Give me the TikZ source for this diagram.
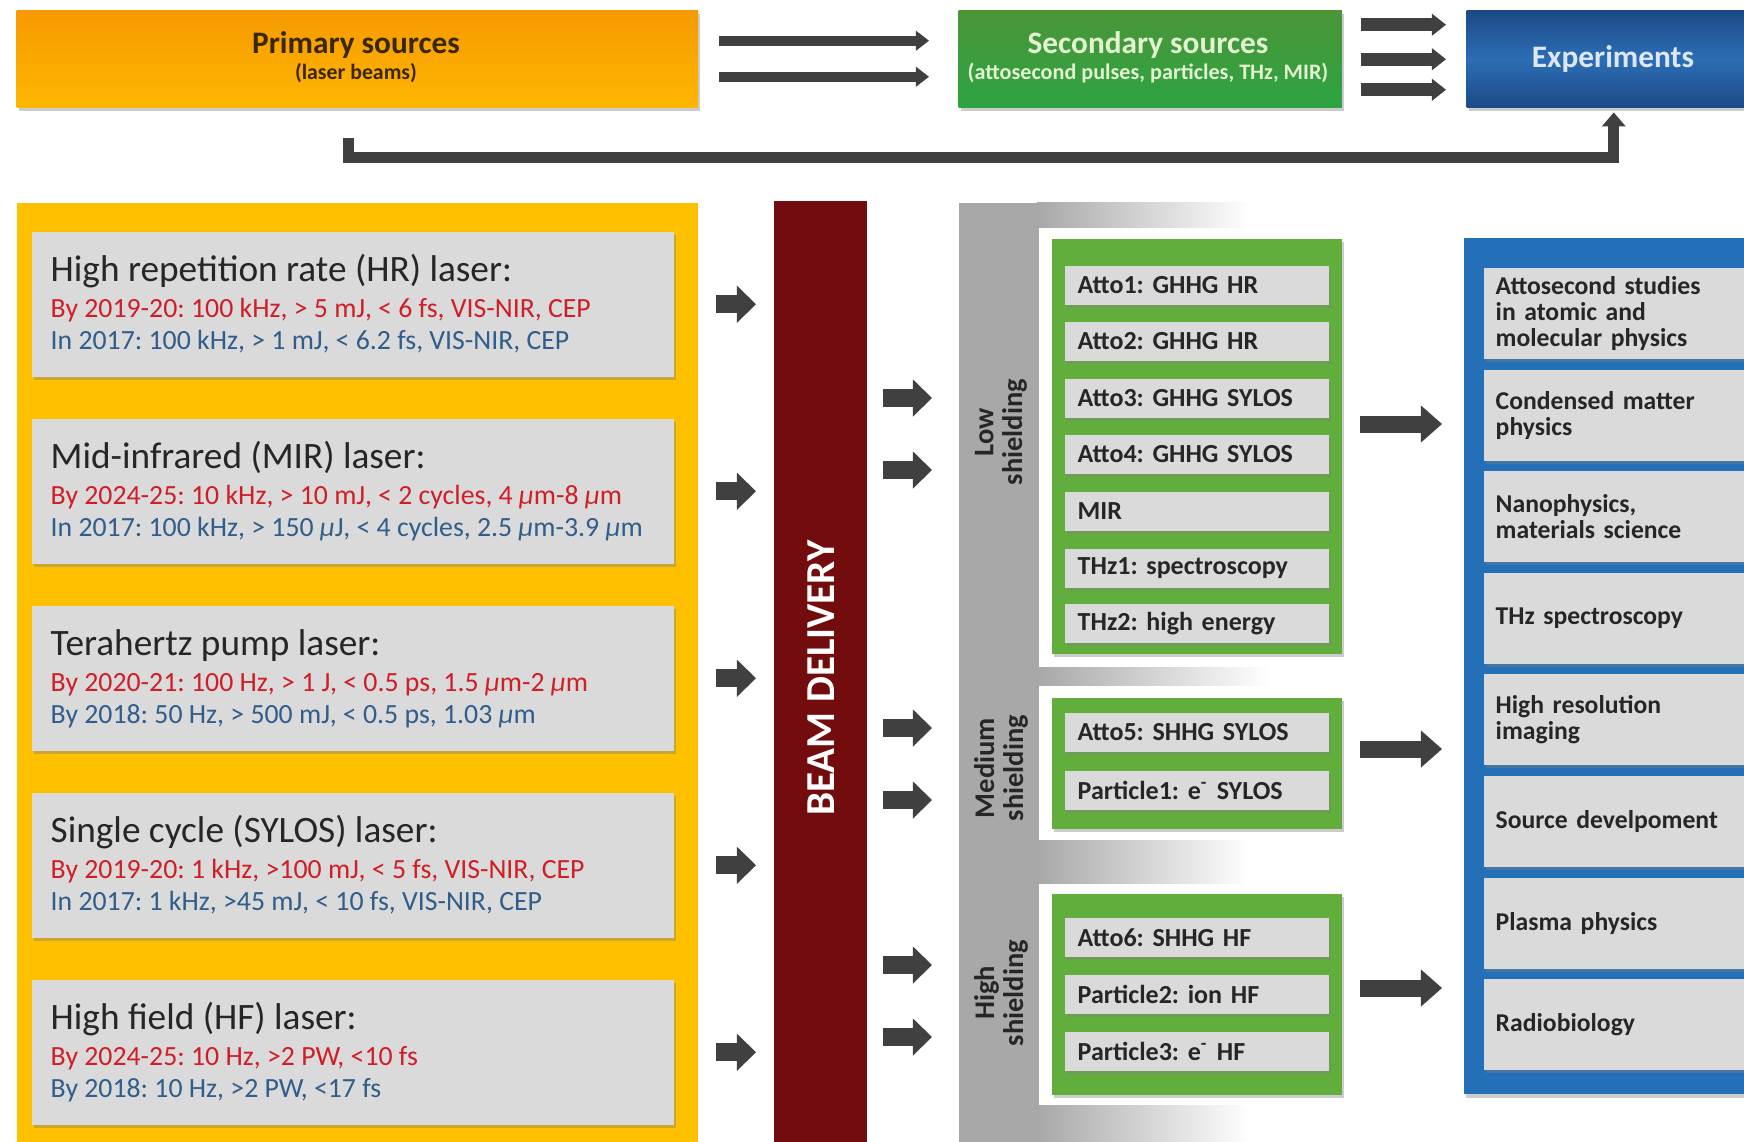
\documentclass[tikz,border=0pt]{standalone}
\usepackage{fontspec}
\setmainfont{Carlito}
\usetikzlibrary{shadows,arrows.meta,calc}
\frenchspacing
\definecolor{orA}{HTML}{F59A00}
\definecolor{orB}{HTML}{FFB600}
\definecolor{secA}{HTML}{4A9637}
\definecolor{secB}{HTML}{2DA343}
\definecolor{expA}{HTML}{1C4A86}
\definecolor{expB}{HTML}{2C6DB5}
\definecolor{ylw}{HTML}{FFC000}
\definecolor{boxg}{HTML}{DADADA}
\definecolor{bdred}{HTML}{730C0C}
\definecolor{shg}{HTML}{A8A8A8}
\definecolor{grn}{HTML}{62AE3C}
\definecolor{blp}{HTML}{2470B8}
\definecolor{arr}{HTML}{404040}
\definecolor{txr}{HTML}{D01E26}
\definecolor{txb}{HTML}{2F5D8C}
\definecolor{txd}{HTML}{262626}
\definecolor{txp}{HTML}{3A2700}
\definecolor{txs}{HTML}{E3F2D0}
\definecolor{txe}{HTML}{DDE8F7}
\newcommand\umic{{\itshape μ}m}
\newcommand\uJou{{\itshape μ}J}
\tikzset{
  sh/.style={drop shadow={shadow xshift=0.02cm,shadow yshift=-0.035cm,opacity=0.4}},
  topbox/.style={anchor=north west,minimum height=0.97cm,inner sep=0pt,sh},
  lbox/.style={fill=boxg,anchor=north west,minimum width=6.42cm,minimum height=1.45cm,inner sep=0pt,sh},
  lhead/.style={anchor=base west,inner sep=0pt,text=txd,font=\fontsize{10.6}{12}\selectfont},
  lred/.style={anchor=base west,inner sep=0pt,text=txr,font=\fontsize{7.9}{9}\selectfont},
  lblue/.style={anchor=base west,inner sep=0pt,text=txb,font=\fontsize{7.9}{9}\selectfont},
  gbox/.style={fill=grn,anchor=north west,minimum width=2.90cm,inner sep=0pt,sh},
  gitem/.style={fill=boxg,anchor=north west,minimum height=0.39cm,text width=2.38cm,inner xsep=0.13cm,inner ysep=0pt,align=left,text=txd,font=\bfseries\fontsize{7.4}{8}\selectfont,sh},
  bitem/.style={fill=boxg,anchor=north west,minimum height=0.91cm,text width=2.63cm,inner xsep=0.12cm,inner ysep=0pt,align=left,text=txd,font=\bfseries\fontsize{7.3}{7.4}\selectfont,sh},
  shlab/.style={rotate=90,align=center,inner sep=0pt,text=txd,font=\bfseries\fontsize{8.1}{8.2}\selectfont},
  blk/.style={draw=arr,line width=0.18cm,-{Triangle[length=0.19cm,width=0.37cm,line width=0pt]}},
  gblk/.style={draw=arr,line width=0.17cm,-{Triangle[length=0.21cm,width=0.37cm,line width=0pt]}},
  tarr/.style={draw=arr,line width=0.10cm,-{Triangle[length=0.13cm,width=0.20cm,line width=0pt]}},
  sarr/.style={draw=arr,line width=0.13cm,-{Triangle[length=0.14cm,width=0.22cm,line width=0pt]}},
  fb/.style={draw=arr,line width=0.11cm,-{Triangle[length=0.14cm,width=0.24cm,line width=0pt]}}
}
\begin{document}
\begin{tikzpicture}[x=0.01cm,y=-0.01cm]
\useasboundingbox (0,0) rectangle (1744,1141);
\clip (0,0) rectangle (1744,1141);
\fill[white] (0,0) rectangle (1744,1141);

% ---------- top row ----------
\node[topbox,minimum width=6.81cm,top color=orA,bottom color=orB] (prim) at (16,10) {};
\node[anchor=base,inner sep=0pt,text=txp,font=\bfseries\fontsize{8.9}{10}\selectfont] (primt) at (356,53) {Primary sources};
\node[anchor=base,inner sep=0pt,text=txp,font=\bfseries\fontsize{6.2}{7}\selectfont] (prims) at (356,79) {(laser beams)};

\node[topbox,minimum width=3.83cm,top color=secA,bottom color=secB] (sec) at (958,10) {};
\node[anchor=base,inner sep=0pt,text=txs,font=\bfseries\fontsize{8.9}{10}\selectfont] (sect) at (1148,53) {Secondary sources};
\node[anchor=base,inner sep=0pt,text=txs,font=\bfseries\fontsize{6.3}{7}\selectfont] (secs) at (1148,79) {(attosecond pulses, particles, THz, MIR)};

\node[topbox,minimum width=2.94cm,top color=expA,bottom color=expA,middle color=expB] (expt) at (1466,10) {};
\node[anchor=base,inner sep=0pt,text=txe,font=\bfseries\fontsize{8.9}{10}\selectfont] (exptt) at (1613,67) {Experiments};

\draw[tarr] ([xshift=0.2cm,yshift=0.185cm]prim.east) -- ([xshift=-0.29cm,yshift=0.185cm]sec.west);
\draw[tarr] ([xshift=0.2cm,yshift=-0.175cm]prim.east) -- ([xshift=-0.29cm,yshift=-0.175cm]sec.west);
\draw[sarr] ([xshift=0.18cm,yshift=0.345cm]sec.east) -- ([xshift=-0.2cm,yshift=0.345cm]expt.west);
\draw[sarr] ([xshift=0.18cm]sec.east) -- ([xshift=-0.2cm]expt.west);
\draw[sarr] ([xshift=0.18cm,yshift=-0.305cm]sec.east) -- ([xshift=-0.2cm,yshift=-0.305cm]expt.west);
\draw[fb] ([xshift=-0.085cm,yshift=-0.30cm]prim.south) |- ([yshift=-0.49cm]expt.south) -- ([yshift=-0.04cm]expt.south);

% ---------- lasers ----------
\node[fill=ylw,anchor=north west,minimum width=6.81cm,minimum height=9.6cm,inner sep=0pt] (lp) at (16,202) {};

\node[lbox] (hr) at (31,231) {};
\node[lhead] (hr1) at ([shift={(19,50)}]hr.north west) {High repetition rate (HR) laser:};
\node[lred] (hr2) at ([shift={(19,86)}]hr.north west) {By 2019-20: 100 kHz, > 5 mJ, < 6 fs, VIS-NIR, CEP};
\node[lblue] (hr3) at ([shift={(19,118)}]hr.north west) {In 2017: 100 kHz, > 1 mJ, < 6.2 fs, VIS-NIR, CEP};

\node[lbox] (mir) at (31,418) {};
\node[lhead] (mir1) at ([shift={(19,50)}]mir.north west) {Mid-infrared (MIR) laser:};
\node[lred] (mir2) at ([shift={(19,86)}]mir.north west) {By 2024-25: 10 kHz, > 10 mJ, < 2 cycles, 4 \umic-8 \umic};
\node[lblue] (mir3) at ([shift={(19,118)}]mir.north west) {In 2017: 100 kHz, > 150 \uJou, < 4 cycles, 2.5 \umic-3.9 \umic};

\node[lbox] (thz) at (31,605) {};
\node[lhead] (thz1) at ([shift={(19,50)}]thz.north west) {Terahertz pump laser:};
\node[lred] (thz2) at ([shift={(19,86)}]thz.north west) {By 2020-21: 100 Hz, > 1 J, < 0.5 ps, 1.5 \umic-2 \umic};
\node[lblue] (thz3) at ([shift={(19,118)}]thz.north west) {By 2018: 50 Hz, > 500 mJ, < 0.5 ps, 1.03 \umic};

\node[lbox] (syl) at (31,792) {};
\node[lhead] (syl1) at ([shift={(19,50)}]syl.north west) {Single cycle (SYLOS) laser:};
\node[lred] (syl2) at ([shift={(19,86)}]syl.north west) {By 2019-20: 1 kHz, >100 mJ, < 5 fs, VIS-NIR, CEP};
\node[lblue] (syl3) at ([shift={(19,118)}]syl.north west) {In 2017: 1 kHz, >45 mJ, < 10 fs, VIS-NIR, CEP};

\node[lbox] (hf) at (31,979) {};
\node[lhead] (hf1) at ([shift={(19,50)}]hf.north west) {High field (HF) laser:};
\node[lred] (hf2) at ([shift={(19,86)}]hf.north west) {By 2024-25: 10 Hz, >2 PW, <10 fs};
\node[lblue] (hf3) at ([shift={(19,118)}]hf.north west) {By 2018: 10 Hz, >2 PW, <17 fs};

% ---------- beam delivery ----------
\node[fill=bdred,anchor=north west,minimum width=0.93cm,minimum height=9.6cm,inner sep=0pt] (beam) at (773,200) {};
\node[rotate=90,inner sep=0pt,text=white,font=\bfseries\fontsize{11.7}{13}\selectfont] (beamt) at (821,678) {BEAM DELIVERY};

\foreach \b in {hr,mir,thz,syl,hf}
  \draw[blk,shorten <=0.41cm,shorten >=0.17cm] (\b.east) -- (beam.west |- \b.east);

% ---------- shielding ----------
\node[fill=shg,anchor=north west,minimum width=0.80cm,minimum height=9.6cm,inner sep=0pt] (shield) at (958,202) {};
\shade[left color=shg,right color=white] (1037,202) rectangle (1250,227);
\shade[left color=shg,right color=white] (1037,667) rectangle (1270,685);
\shade[left color=shg,right color=white] (1037,840) rectangle (1250,883);
\shade[left color=shg,right color=white] (1037,1105) rectangle (1250,1150);

\node[shlab] (lowl) at (1001,432) {Low\\shielding};
\node[shlab] (medl) at (1001,768) {Medium\\shielding};
\node[shlab] (higl) at (1001,993) {High\\shielding};

\foreach \yy in {398,470,728,800,965,1037}
  \draw[blk,shorten <=0.16cm,shorten >=0.26cm] (beam.east |- 0,\yy) -- (shield.west |- 0,\yy);

% ---------- secondary sources ----------
\node[gbox,minimum height=4.15cm] (g1) at (1051,238) {};
\node[gbox,minimum height=1.31cm] (g2) at (1051,697) {};
\node[gbox,minimum height=2.01cm] (g3) at (1051,893) {};

\node[gitem] (a1) at (1064,265) {Atto1: GHHG HR};
\node[gitem] (a2) at (1064,321) {Atto2: GHHG HR};
\node[gitem] (a3) at (1064,378) {Atto3: GHHG SYLOS};
\node[gitem] (a4) at (1064,434) {Atto4: GHHG SYLOS};
\node[gitem] (mr) at (1064,491) {MIR};
\node[gitem] (t1) at (1064,548) {THz1: spectroscopy};
\node[gitem] (t2) at (1064,603) {THz2: high energy};
\node[gitem] (a5) at (1064,712) {Atto5: SHHG SYLOS};
\node[gitem] (p1) at (1064,770) {Particle1: e\textsuperscript{-} SYLOS};
\node[gitem] (a6) at (1064,917) {Atto6: SHHG HF};
\node[gitem] (p2) at (1064,974) {Particle2: ion HF};
\node[gitem] (p3) at (1064,1031) {Particle3: e\textsuperscript{-} HF};

% ---------- experiments ----------
\node[fill=blp,anchor=north west,minimum width=3.1cm,minimum height=8.56cm,inner sep=0pt,sh] (bp) at (1463,237) {};
\node[bitem] (e1) at (1483,267) {Attosecond studies\\in atomic and\\molecular physics};
\node[bitem] (e2) at (1483,369) {Condensed matter\\physics};
\node[bitem] (e3) at (1483,470) {Nanophysics,\\materials science};
\node[bitem] (e4) at (1483,572) {THz spectroscopy};
\node[bitem] (e5) at (1483,673) {High resolution\\imaging};
\node[bitem] (e6) at (1483,775) {Source develpoment};
\node[bitem] (e7) at (1483,877) {Plasma physics};
\node[bitem] (e8) at (1483,978) {Radiobiology};

\draw[gblk,shorten <=0.17cm,shorten >=0.21cm] (g1.east |- 0,424) -- (bp.west |- 0,424);
\draw[gblk,shorten <=0.17cm,shorten >=0.21cm] (g2.east |- 0,749) -- (bp.west |- 0,749);
\draw[gblk,shorten <=0.17cm,shorten >=0.21cm] (g3.east |- 0,988) -- (bp.west |- 0,988);
\end{tikzpicture}
\end{document}
